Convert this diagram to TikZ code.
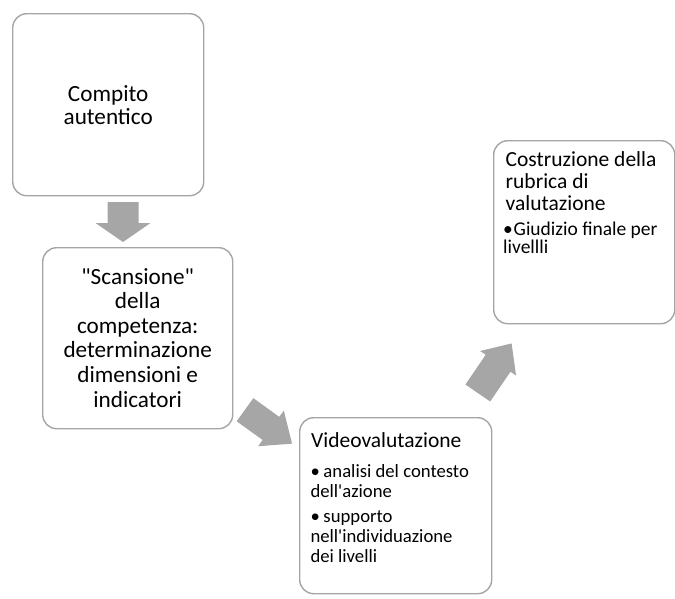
\documentclass[tikz,border=0pt]{standalone}
\usepackage{fontspec}
\setmainfont{Carlito}[Ligatures=TeXOff]
\definecolor{boxgray}{RGB}{165,165,165}
\definecolor{arrowfill}{RGB}{166,166,166}
\newcommand\blockarrow[7]{% #1 name, #2 tail pos, #3 angle, #4 length, #5 shaft w, #6 head w, #7 head len
  \begin{scope}[shift={#2},rotate=#3]
    \coordinate (#1) at (0,0);
    \fill[arrowfill] (0,{#5/2}) -- ({#4-#7},{#5/2}) -- ({#4-#7},{#6/2}) -- (#4,0)
      -- ({#4-#7},{-#6/2}) -- ({#4-#7},{-#5/2}) -- (0,{-#5/2}) -- cycle;
  \end{scope}}
\newcommand\bul[1]{\makebox[#1][l]{•}}
\tikzset{
  box/.style={draw=boxgray, line width=1.4pt, rounded corners=14pt, fill=white,
    inner sep=0pt, anchor=north west},
  bigtext/.style={font=\fontsize{23.2}{#1}\selectfont, align=center, inner sep=0pt},
  ttl/.style={font=\fontsize{21.5}{21.7}\selectfont, align=left, inner sep=0pt, anchor=base west},
  itm/.style={align=left, inner sep=0pt, anchor=base west},
}
\begin{document}
\begin{tikzpicture}[x=1pt,y=-1pt]
\useasboundingbox (0,0) rectangle (675,598);
% boxes
\node[box, minimum width=191pt, minimum height=182pt] (b1) at (12,13) {};
\node[box, minimum width=190pt, minimum height=181pt] (b2) at (42,247) {};
\node[box, minimum width=192pt, minimum height=176pt] (b3) at (299,417) {};
\node[box, minimum width=181pt, minimum height=183pt] (b4) at (493,140) {};
% arrows
\blockarrow{a1}{(123,202)}{-90}{40}{31}{55}{19}
\blockarrow{a2}{(245,409.7)}{-35.8}{58}{28.5}{44}{26}
\blockarrow{a3}{(477.8,393)}{55.7}{60}{30}{43.5}{24}
% texts (multi-line nodes: base anchor lies on the last line)
\node[bigtext=23] (t1) at (b1.center) {Compito\\autentico};
\node[bigtext=24.6] (t2) at ([yshift=0.5pt]b2.center) {"Scansione"\\della\\competenza:\\determinazione\\dimensioni e\\indicatori};
\node[ttl] (t3) at (311,447.7) {Videovalutazione};
\node[itm, font=\fontsize{18.7}{19.6}\selectfont] (t31) at (310.3,497) {\bul{13pt}analisi del contesto\\dell'azione};
\node[itm, font=\fontsize{18.7}{19.6}\selectfont] (t32) at (310.3,562) {\bul{13pt}supporto\\nell'individuazione\\dei livelli};
\node[ttl] (t4) at (505.5,210.1) {Costruzione della\\rubrica di\\valutazione};
\node[itm, font=\fontsize{19.5}{18.7}\selectfont] (t41) at (503,253.7) {\bul{10.5pt}Giudizio finale per\\livellli};
\end{tikzpicture}
\end{document}
